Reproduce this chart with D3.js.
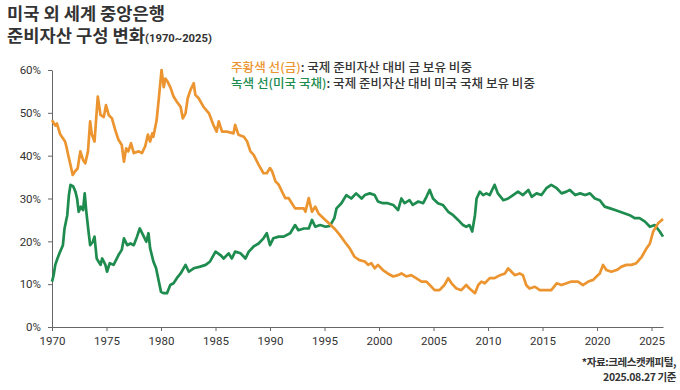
<!DOCTYPE html>
<html>
<head>
<meta charset="utf-8">
<script src="https://cdn.jsdelivr.net/npm/d3@7"></script>
<style>
  body { margin: 0; background: #fff; }
  svg text { font-family: "Noto Sans CJK KR", "Noto Sans", sans-serif; }
  .axis text { font-family: Roboto, "Noto Sans", sans-serif; font-size: 11.5px; fill: #333; }
  .axis path, .axis line { stroke: #666; }
</style>
</head>
<body>
<script>
const w = 680; // width
const h = 390; // height

// [year, %]
const gold = [
  [1970.0, 48.3], [1970.3, 47.0], [1970.45, 47.5], [1970.75, 45.0], [1971.2, 43.3], [1971.35, 41.8],
  [1971.5, 40.0], [1971.7, 37.8], [1971.9, 35.5], [1972.1, 36.3], [1972.35, 37.0], [1972.6, 41.0],
  [1972.85, 39.0], [1973.05, 38.2], [1973.3, 41.0], [1973.5, 48.0], [1973.65, 45.0], [1973.9, 43.3],
  [1974.2, 53.8], [1974.45, 49.5], [1974.75, 49.0], [1974.95, 51.8], [1975.2, 49.5], [1975.5, 48.7],
  [1975.8, 46.0], [1976.1, 43.7], [1976.4, 42.5], [1976.6, 38.6], [1976.8, 41.7], [1977.0, 41.0],
  [1977.25, 42.9], [1977.5, 40.6], [1977.95, 41.0], [1978.25, 40.6], [1978.55, 42.2], [1978.8, 44.9],
  [1979.0, 43.3], [1979.2, 45.2], [1979.3, 44.4], [1979.6, 48.3], [1979.8, 53.4], [1980.05, 60.0],
  [1980.25, 56.0], [1980.4, 58.0], [1980.6, 57.3], [1980.85, 56.0], [1981.15, 53.8], [1981.45, 52.6],
  [1981.8, 51.4], [1982.0, 48.7], [1982.25, 49.9], [1982.45, 53.4], [1982.7, 55.3], [1983.0, 56.9],
  [1983.15, 54.2], [1983.45, 53.4], [1983.9, 51.4], [1984.4, 49.9], [1984.8, 47.2], [1985.1, 45.6],
  [1985.3, 48.0], [1985.6, 45.6], [1986.05, 45.6], [1986.65, 45.2], [1986.8, 47.2], [1987.1, 44.9],
  [1987.6, 44.4], [1987.9, 43.3], [1988.2, 41.0], [1988.5, 40.2], [1988.95, 37.9], [1989.4, 35.9],
  [1989.7, 35.9], [1990.0, 37.1], [1990.2, 36.3], [1990.5, 34.0], [1990.8, 33.2], [1991.1, 31.6],
  [1991.4, 30.1], [1991.7, 30.1], [1992.0, 28.9], [1992.3, 27.7], [1992.8, 27.7], [1993.1, 27.7],
  [1993.25, 26.9], [1993.55, 30.1], [1993.85, 26.9], [1994.15, 28.1], [1994.45, 26.5], [1994.9, 25.4],
  [1995.4, 24.2], [1995.9, 23.0], [1996.4, 21.5], [1996.85, 19.9], [1997.3, 18.4], [1997.75, 16.4],
  [1998.2, 15.6], [1998.7, 15.3], [1999.0, 14.5], [1999.3, 14.9], [1999.6, 13.7], [1999.9, 14.5],
  [2000.35, 13.3], [2000.8, 12.5], [2001.3, 11.8], [2001.75, 12.1], [2002.05, 12.5], [2002.5, 11.8],
  [2002.95, 12.1], [2003.4, 11.4], [2003.9, 10.6], [2004.35, 10.6], [2004.65, 9.8], [2005.1, 8.6],
  [2005.55, 8.6], [2006.0, 9.8], [2006.35, 11.4], [2006.65, 10.2], [2007.1, 9.0], [2007.55, 8.6],
  [2008.0, 9.8], [2008.3, 9.0], [2008.8, 7.9], [2009.1, 9.8], [2009.4, 10.6], [2009.7, 10.2],
  [2010.15, 11.4], [2010.6, 11.4], [2011.1, 12.1], [2011.55, 12.5], [2011.85, 13.7], [2012.15, 12.9],
  [2012.45, 12.1], [2012.9, 12.5], [2013.2, 12.1], [2013.5, 9.8], [2013.8, 9.0], [2014.3, 9.4],
  [2014.75, 8.6], [2015.2, 8.6], [2015.8, 8.6], [2016.3, 10.2], [2016.75, 9.8], [2017.2, 10.2],
  [2017.65, 10.6], [2018.25, 10.6], [2018.7, 9.8], [2019.2, 10.6], [2019.65, 11.0], [2019.95, 11.8],
  [2020.25, 12.5], [2020.55, 14.5], [2020.85, 13.3], [2021.3, 12.9], [2021.8, 13.3], [2022.25, 14.1],
  [2022.7, 14.5], [2023.15, 14.5], [2023.6, 14.9], [2024.1, 16.4], [2024.55, 18.4], [2024.85, 19.5],
  [2025.15, 22.3], [2025.6, 24.2], [2026.05, 25.2]
];

const treasury = [
  [1970.0, 10.6], [1970.15, 12.1], [1970.3, 14.5], [1970.5, 16.0], [1970.75, 17.6], [1971.0, 19.1],
  [1971.15, 23.0], [1971.4, 26.1], [1971.55, 30.8], [1971.7, 33.2], [1971.95, 32.8], [1972.15, 31.6],
  [1972.3, 30.0], [1972.45, 26.9], [1972.65, 28.1], [1972.85, 27.3], [1973.0, 31.2], [1973.15, 26.9],
  [1973.35, 22.3], [1973.5, 19.1], [1973.75, 19.9], [1973.9, 21.1], [1974.1, 16.0], [1974.45, 14.5],
  [1974.6, 16.0], [1974.9, 14.5], [1975.05, 12.9], [1975.3, 14.9], [1975.65, 14.5], [1976.1, 16.8],
  [1976.4, 18.0], [1976.6, 20.7], [1976.9, 19.1], [1977.2, 19.5], [1977.5, 19.1], [1977.8, 21.1],
  [1978.05, 23.0], [1978.35, 21.5], [1978.65, 19.9], [1978.85, 21.9], [1979.0, 18.4], [1979.3, 15.3],
  [1979.55, 13.7], [1979.8, 10.6], [1980.0, 8.2], [1980.25, 7.9], [1980.55, 7.9], [1980.85, 9.8],
  [1981.15, 10.2], [1981.45, 11.4], [1981.8, 12.5], [1982.25, 14.5], [1982.55, 12.9], [1983.0, 13.7],
  [1983.6, 14.1], [1984.1, 14.5], [1984.5, 15.3], [1985.0, 17.6], [1985.45, 16.8], [1985.75, 16.0],
  [1986.2, 17.2], [1986.5, 16.0], [1986.8, 17.6], [1987.3, 17.2], [1987.75, 16.0], [1988.05, 17.6],
  [1988.5, 18.8], [1988.95, 19.5], [1989.4, 20.7], [1989.7, 21.9], [1990.0, 19.1], [1990.3, 20.7],
  [1990.8, 21.1], [1991.25, 21.1], [1991.85, 21.9], [1992.3, 23.8], [1992.6, 22.6], [1993.1, 23.0],
  [1993.55, 23.0], [1993.85, 25.0], [1994.15, 23.4], [1994.6, 23.8], [1995.1, 23.4], [1995.5, 23.6],
  [1995.9, 25.4], [1996.1, 27.7], [1996.55, 28.9], [1997.0, 30.8], [1997.45, 30.0], [1997.9, 31.2],
  [1998.4, 30.0], [1998.7, 30.8], [1999.15, 31.2], [1999.6, 30.8], [1999.9, 29.3], [2000.35, 28.9],
  [2000.8, 28.9], [2001.3, 28.5], [2001.75, 27.3], [2002.05, 30.0], [2002.35, 28.9], [2002.8, 29.6],
  [2003.1, 28.5], [2003.6, 29.3], [2004.05, 28.9], [2004.35, 30.4], [2004.65, 32.0], [2004.95, 30.0],
  [2005.4, 28.9], [2005.85, 28.5], [2006.35, 26.9], [2006.8, 26.1], [2007.25, 25.0], [2007.7, 23.8],
  [2008.0, 23.4], [2008.3, 23.8], [2008.55, 22.3], [2008.8, 26.1], [2008.95, 30.0], [2009.25, 31.6],
  [2009.55, 30.8], [2009.85, 31.2], [2010.15, 30.8], [2010.6, 33.2], [2010.9, 31.2], [2011.4, 29.6],
  [2011.85, 30.0], [2012.3, 30.8], [2012.75, 31.6], [2013.2, 30.8], [2013.7, 32.0], [2014.0, 30.4],
  [2014.45, 31.2], [2014.9, 30.8], [2015.35, 32.4], [2015.8, 33.2], [2016.3, 32.4], [2016.75, 31.2],
  [2017.2, 31.6], [2017.5, 32.0], [2018.0, 30.8], [2018.45, 31.2], [2018.9, 30.8], [2019.35, 31.2],
  [2019.8, 30.0], [2020.25, 29.6], [2020.7, 28.1], [2021.2, 27.7], [2021.65, 27.3], [2022.1, 26.9],
  [2022.55, 26.5], [2023.0, 26.1], [2023.45, 25.4], [2023.9, 25.4], [2024.4, 24.6], [2024.85, 23.4],
  [2025.3, 23.8], [2025.75, 22.3], [2026.05, 21.1]
];

const yearTicks = d3.range(1970, 2026, 5);
const pctTicks = [0, 10, 20, 30, 40, 50, 60];

const titleLines = ["미국 외 세계 중앙은행", "준비자산 구성 변화"];
const titleNote = "(1970~2025)";
const legendRows = [
  { name: "주황색 선(금)", text: ": 국제 준비자산 대비 금 보유 비중", color: "#EC9530" },
  { name: "녹색 선(미국 국채)", text: ": 국제 준비자산 대비 미국 국채 보유 비중", color: "#1E8C4E" }
];
const sourceLines = ["*자료:크레스캣캐피털,", "2025.08.27 기준"];

let svg = d3.select("body")
    .append("svg")
    .attr('width', w)
    .attr('height', h);

// scales
let x = d3.scaleLinear()
    .domain([1970, 2026.05])
    .range([52, 663]);

let y = d3.scaleLinear()
    .domain([0, 60])
    .range([327, 70]);

// axes
svg.append("g")
    .attr('class', 'axis')
    .attr('transform', `translate(0,${y(0)})`)
    .call(d3.axisBottom(x).tickValues(yearTicks).tickFormat(d3.format("d"))
        .tickSize(4).tickSizeOuter(0).tickPadding(6));

svg.append("g")
    .attr('class', 'axis')
    .attr('transform', `translate(${x(1970)},0)`)
    .call(d3.axisLeft(y).tickValues(pctTicks).tickFormat(d => d + "%")
        .tickSize(4).tickSizeOuter(0).tickPadding(7));

// lines
let line = d3.line()
    .x(d => x(d[0]))
    .y(d => y(d[1]));

svg.append("path")
    .datum(treasury)
    .attr("fill", "none")
    .attr("stroke", legendRows[1].color)
    .attr("stroke-width", 2.7)
    .attr("stroke-linejoin", "round")
    .attr("d", line);

svg.append("path")
    .datum(gold)
    .attr("fill", "none")
    .attr("stroke", legendRows[0].color)
    .attr("stroke-width", 2.7)
    .attr("stroke-linejoin", "round")
    .attr("d", line);

// title
svg.append("text")
    .attr("x", 7).attr("y", 20)
    .attr("font-size", 16.5).attr("font-weight", "bold").attr("fill", "#333")
    .attr("textLength", 158).attr("lengthAdjust", "spacingAndGlyphs")
    .text(titleLines[0]);

svg.append("text")
    .attr("x", 7).attr("y", 42)
    .attr("font-size", 16.5).attr("font-weight", "bold").attr("fill", "#333")
    .attr("textLength", 138).attr("lengthAdjust", "spacingAndGlyphs")
    .text(titleLines[1]);

svg.append("text")
    .attr("x", 145).attr("y", 42)
    .attr("font-size", 11.5).attr("font-weight", "bold").attr("fill", "#333")
    .attr("textLength", 67).attr("lengthAdjust", "spacingAndGlyphs")
    .style("font-family", "Roboto, sans-serif")
    .text(titleNote);

// legend
let legendWidths = [241, 304];
legendRows.forEach((r, i) => {
    let t = svg.append("text")
        .attr("x", 231).attr("y", 72 + i * 16)
        .attr("font-size", 12).attr("font-weight", 500)
        .attr("textLength", legendWidths[i]).attr("lengthAdjust", "spacingAndGlyphs");
    t.append("tspan").attr("fill", r.color).text(r.name);
    t.append("tspan").attr("fill", "#333").text(r.text);
});

// source
sourceLines.forEach((s, i) => {
    svg.append("text")
        .attr("x", 676).attr("y", 366 + i * 15)
        .attr("text-anchor", "end")
        .attr("font-size", 10.5).attr("font-weight", "bold").attr("fill", "#333")
        .attr("letter-spacing", -0.4)
        .text(s);
});
</script>
</body>
</html>
